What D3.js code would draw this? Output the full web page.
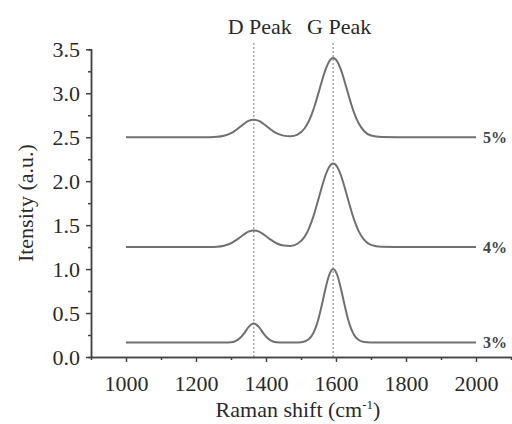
<!DOCTYPE html>
<html>
<head>
<meta charset="utf-8">
<script src="https://cdn.jsdelivr.net/npm/d3@7"></script>
<style>
  body { margin: 0; background: #fff; }
</style>
</head>
<body>
<svg id="chart" width="512" height="424"></svg>
<script>
// raman shift values shared by all spectra
var shift = [1000, 1100, 1200, 1240, 1260, 1280, 1300, 1310, 1320, 1330, 1340, 1350, 1365,
  1380, 1390, 1400, 1410, 1420, 1430, 1450, 1470, 1490, 1510, 1520, 1530, 1540, 1550, 1560,
  1570, 1580, 1592, 1604, 1614, 1624, 1634, 1644, 1654, 1664, 1680, 1700, 1730, 1800, 1900, 2000];

// intensity
var int5 = [2.50, 2.50, 2.50, 2.501, 2.504, 2.516, 2.546, 2.570, 2.599, 2.631, 2.661, 2.685, 2.700,
  2.685, 2.661, 2.631, 2.599, 2.570, 2.546, 2.518, 2.511, 2.530, 2.599, 2.664, 2.754, 2.870, 3.004, 3.143,
  3.268, 3.358, 3.400, 3.358, 3.268, 3.143, 3.004, 2.870, 2.754, 2.664, 2.571, 2.519, 2.502, 2.50, 2.50, 2.50];

var int4 = [1.25, 1.25, 1.25, 1.251, 1.254, 1.266, 1.294, 1.317, 1.344, 1.374, 1.403, 1.426, 1.440,
  1.426, 1.403, 1.374, 1.344, 1.317, 1.294, 1.267, 1.263, 1.288, 1.366, 1.438, 1.536, 1.658, 1.798, 1.940,
  2.067, 2.158, 2.200, 2.158, 2.067, 1.940, 1.798, 1.658, 1.536, 1.438, 1.335, 1.275, 1.253, 1.25, 1.25, 1.25];

var int3 = [0.165, 0.165, 0.165, 0.165, 0.165, 0.165, 0.169, 0.177, 0.197, 0.233, 0.284, 0.339, 0.380,
  0.339, 0.284, 0.233, 0.197, 0.177, 0.169, 0.165, 0.165, 0.166, 0.177, 0.196, 0.237, 0.314, 0.436, 0.600,
  0.778, 0.927, 1.000, 0.927, 0.778, 0.600, 0.436, 0.314, 0.237, 0.196, 0.171, 0.166, 0.165, 0.165, 0.165, 0.165];

var seriesNames = ["5%", "4%", "3%"];
var peakNames = ["D Peak", "G Peak"];
var peakShift = [1365, 1592];

var xTicks = [1000, 1200, 1400, 1600, 1800, 2000];
var xMinor = [1100, 1300, 1500, 1700, 1900];
var yTicks = [0, 0.5, 1.0, 1.5, 2.0, 2.5, 3.0, 3.5];
var yMinor = [0.25, 0.75, 1.25, 1.75, 2.25, 2.75, 3.25];

var allSeries = [int5, int4, int3];
var fontName = "Liberation Serif";

var svg = d3.select("#chart");

var xScale = d3.scaleLinear()
    .domain([900, 2100])
    .range([91, 511]);

var yScale = d3.scaleLinear()
    .domain([0, 3.5])
    .range([357, 49.3]);

// dotted lines at the peaks
svg.selectAll(".peakLine")
  .data(peakShift)
  .enter().append("line")
  .attr("class", "peakLine")
  .attr("x1", function(d) { return xScale(d); })
  .attr("x2", function(d) { return xScale(d); })
  .attr("y1", 43)
  .attr("y2", yScale(0))
  .style("stroke", "#a8a8a8")
  .style("stroke-width", 1.5)
  .style("stroke-dasharray", "2,2");

// peak labels on top
svg.selectAll(".peakLabel")
  .data(peakNames)
  .enter().append("text")
  .attr("class", "peakLabel")
  .attr("x", function(d, i) { return xScale(peakShift[i]) + 6; })
  .attr("y", 34)
  .attr("text-anchor", "middle")
  .style("font-family", fontName)
  .style("font-size", "22px")
  .style("fill", "#2a2a2a")
  .text(function(d) { return d; });

// minor ticks
svg.append("g")
  .attr("class", "axis")
  .attr("transform", "translate(0," + yScale(0) + ")")
  .call(d3.axisBottom(xScale).tickValues(xMinor).tickSize(3).tickFormat(""));

svg.append("g")
  .attr("class", "axis")
  .attr("transform", "translate(" + xScale(900) + ",0)")
  .call(d3.axisLeft(yScale).tickValues(yMinor).tickSize(3).tickFormat(""));

// x-as
svg.append("g")
  .attr("class", "axis")
  .attr("transform", "translate(0," + yScale(0) + ")")
  .call(d3.axisBottom(xScale).tickValues(xTicks).tickSize(5).tickSizeOuter(0).tickPadding(13)
    .tickFormat(d3.format("d")));

// y-as
svg.append("g")
  .attr("class", "axis")
  .attr("transform", "translate(" + xScale(900) + ",0)")
  .call(d3.axisLeft(yScale).tickValues(yTicks).tickSize(5).tickSizeOuter(0).tickPadding(6)
    .tickFormat(d3.format(".1f")));

svg.selectAll(".axis")
  .attr("font-family", null)
  .attr("font-size", null);

svg.selectAll(".axis path, .axis line")
  .style("stroke", "#444")
  .style("stroke-width", 1.5);

svg.selectAll(".axis text")
  .style("font-family", fontName)
  .style("font-size", "22px")
  .style("fill", "#2a2a2a");

// spectra
var line = d3.line()
    .x(function(d, i) { return xScale(shift[i]); })
    .y(function(d) { return yScale(d); })
    .curve(d3.curveMonotoneX);

svg.selectAll(".spectrum")
  .data(allSeries)
  .enter().append("path")
  .attr("class", "spectrum")
  .attr("d", line)
  .style("fill", "none")
  .style("stroke", "#707070")
  .style("stroke-width", 2);

// series labels at the right
svg.selectAll(".seriesLabel")
  .data(seriesNames)
  .enter().append("text")
  .attr("class", "seriesLabel")
  .attr("x", 483)
  .attr("y", function(d, i) { return yScale(allSeries[i][allSeries[i].length - 1]); })
  .attr("dy", "0.35em")
  .style("font-family", fontName)
  .style("font-size", "16px")
  .style("font-weight", "bold")
  .style("fill", "#444")
  .text(function(d) { return d; });

// axis titles
var xTitle = svg.append("text")
  .attr("x", 298)
  .attr("y", 417)
  .attr("text-anchor", "middle")
  .style("font-family", fontName)
  .style("font-size", "22px")
  .style("fill", "#2a2a2a");
xTitle.append("tspan").text("Raman shift (cm");
xTitle.append("tspan").attr("dy", -8).style("font-size", "13px").text("-1");
xTitle.append("tspan").attr("dy", 8).text(")");

svg.append("text")
  .attr("transform", "translate(33," + (yScale(0) + yScale(3.5)) / 2 + ") rotate(-90)")
  .attr("text-anchor", "middle")
  .style("font-family", fontName)
  .style("font-size", "22px")
  .style("fill", "#2a2a2a")
  .text("Itensity (a.u.)");
</script>
</body>
</html>
